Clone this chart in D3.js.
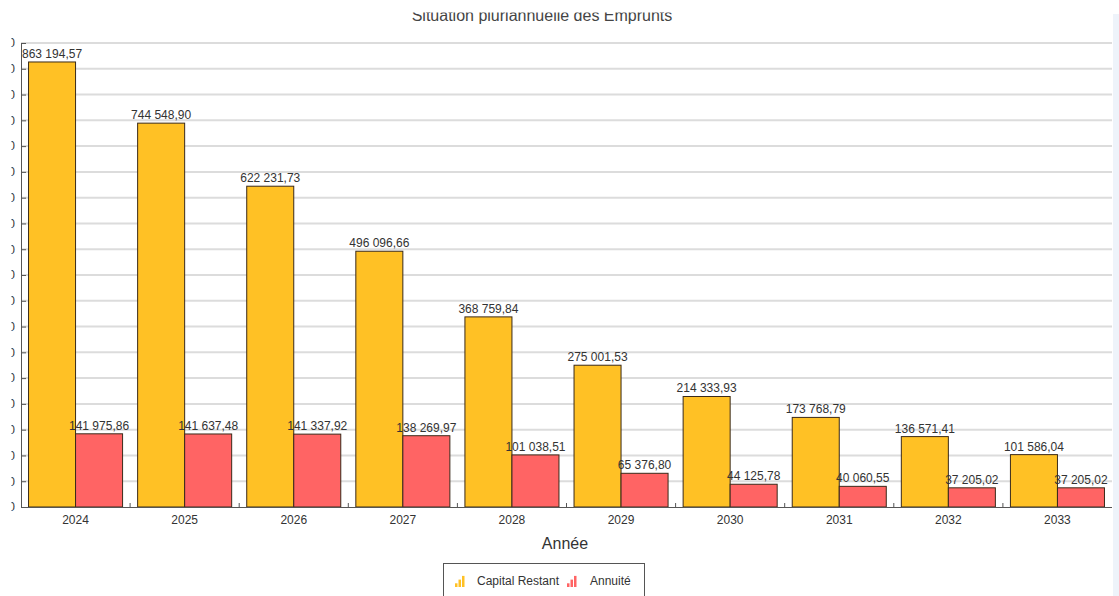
<!DOCTYPE html>
<html><head><meta charset="utf-8">
<script src="https://cdn.jsdelivr.net/npm/d3@7"></script>
<style>body{margin:0;background:#fff;overflow:hidden}svg{display:block;font-family:"Liberation Sans",Arial,sans-serif}</style>
</head><body><svg id="c" width="1119" height="596"></svg>
<script>
const years = ["2024","2025","2026","2027","2028","2029","2030","2031","2032","2033"];
const capitalRestant = [863194.57,744548.90,622231.73,496096.66,368759.84,275001.53,214333.93,173768.79,136571.41,101586.04];
const annuite = [141975.86,141637.48,141337.92,138269.97,101038.51,65376.80,44125.78,40060.55,37205.02,37205.02];
const yTicks = d3.range(0, 900001, 50000);
const seriesNames = ["Capital Restant","Annuité"];
const colors = ["#FFC125","#FF6464"];

const svg = d3.select("#c");
const W=1119,H=596;
const x0 = d3.scaleBand().domain(years).range([21,1112]).paddingInner(0.138).paddingOuter(0.069);
const x1 = d3.scaleBand().domain([0,1]).range([0,x0.bandwidth()]);
const y = d3.scaleLinear().domain([0,900000]).range([507,43]);
const fmt = v => { const s = v.toFixed(2).split("."); return s[0].replace(/\B(?=(\d{3})+(?!\d))/g," ")+","+s[1]; };

// right pale strip
svg.append("rect").attr("x",1113).attr("y",14).attr("width",6).attr("height",H-14).attr("fill","#eef3fa");

// gridlines
svg.append("g").selectAll("line").data(yTicks.slice(1)).join("line")
  .attr("x1",21).attr("x2",1112).attr("y1",d=>y(d)).attr("y2",d=>y(d))
  .attr("stroke","#dcdcdc").attr("stroke-width",2);

// y axis (labels truncated at the left edge as in the reference)
const ya = svg.append("g").attr("transform","translate(21,0)")
  .call(d3.axisLeft(y).tickValues(yTicks).tickSizeInner(-5).tickSizeOuter(0).tickPadding(6)
    .tickFormat(d=>d3.format(",")(d).replace(/,/g," ")));
ya.selectAll("text").attr("font-size",12).attr("fill","#333").attr("font-family","Liberation Sans, Arial");
ya.selectAll("line").attr("stroke","#555");
ya.select(".domain").attr("stroke","#555");
svg.append("rect").attr("x",0).attr("y",0).attr("width",11.5).attr("height",H).attr("fill","#fff");

// bars
const g = svg.append("g");
years.forEach((yr,i)=>{
  [capitalRestant[i],annuite[i]].forEach((v,s)=>{
    const bx = x0(yr)+x1(s);
    g.append("rect").attr("x",bx).attr("y",y(v)).attr("width",x1.bandwidth()).attr("height",y(0)-y(v))
      .attr("fill",colors[s]).attr("stroke","#3a2a1a").attr("stroke-width",1);
  });
});
years.forEach((yr,i)=>{
  [capitalRestant[i],annuite[i]].forEach((v,s)=>{
    g.append("text").attr("x",x0(yr)+x1(s)+x1.bandwidth()/2).attr("y",y(v)-4)
      .attr("text-anchor","middle").attr("font-size",12).attr("fill","#333").text(fmt(v));
  });
});

// x axis
svg.append("line").attr("x1",21).attr("x2",1112).attr("y1",507.5).attr("y2",507.5).attr("stroke","#555");
svg.append("g").selectAll("line").data(years.slice(1)).join("line")
  .attr("x1",d=>x0(d)-x0.step()*0.069).attr("x2",d=>x0(d)-x0.step()*0.069).attr("y1",503).attr("y2",507)
  .attr("stroke","#555");
svg.append("g").selectAll("text").data(years).join("text")
  .attr("x",d=>x0(d)+x0.bandwidth()/2).attr("y",524).attr("text-anchor","middle")
  .attr("font-size",12).attr("fill","#333").text(d=>d);
svg.append("text").attr("x",565).attr("y",549).attr("text-anchor","middle").attr("font-size",16).attr("fill","#333").text("Année");

// title (clipped at top as in the reference)
svg.append("text").attr("x",542).attr("y",21).attr("text-anchor","middle").attr("font-size",16).attr("fill","#444").text("Situation pluriannuelle des Emprunts");
svg.append("rect").attr("x",300).attr("y",0).attr("width",500).attr("height",12.5).attr("fill","#fff");

// legend
const lg = svg.append("g");
lg.append("rect").attr("x",443.5).attr("y",563.5).attr("width",201).attr("height",40).attr("fill","#fff").attr("stroke","#555");
const items = [{x:455,tx:477},{x:567,tx:590}];
items.forEach((it,s)=>{
  [0,1,2].forEach(k=>{
    lg.append("rect").attr("x",it.x+k*3.5).attr("y",587-(k+1)*3.7).attr("width",2.5).attr("height",(k+1)*3.7).attr("fill",colors[s]);
  });
  lg.append("text").attr("x",it.tx).attr("y",585).attr("font-size",12).attr("fill","#333").text(seriesNames[s]);
});
</script></body></html>
